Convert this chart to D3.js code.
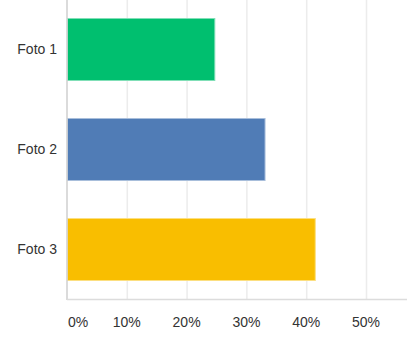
<!DOCTYPE html>
<html>
<head>
<meta charset="utf-8">
<script src="https://cdn.jsdelivr.net/npm/d3@7"></script>
<style>
  body { margin: 0; background: #fff; }
  svg { display: block; }
  text { font-family: "Liberation Sans", Arial, sans-serif; fill: #333; }
</style>
</head>
<body>
<svg width="407" height="350"></svg>
<script>
// data
var categories = ['Foto 1', 'Foto 2', 'Foto 3']
var values = [0.248, 0.332, 0.416]
var colors = ['#00bf6f', '#507cb6', '#f9be00']
var borders = ['#80dfb7', '#a8bedb', '#fcdf80']
var ticks = [0, 0.1, 0.2, 0.3, 0.4, 0.5]

var margin = {top: 0, right: 0, bottom: 51, left: 67}
var width = 407 - margin.left - margin.right
var height = 350 - margin.top - margin.bottom

var svg = d3.select('svg')
var g = svg.append('g').attr('transform', 'translate(' + margin.left + ',' + margin.top + ')')

var x = d3.scaleLinear().domain([0, 0.5]).range([0, 299])
var y = d3.scaleBand().domain(categories).range([0, height]).paddingInner(0.37).paddingOuter(0.18)

// grid lines
g.append('g').selectAll('line')
  .data(ticks.slice(1))
  .enter().append('line')
    .attr('x1', function (d) { return x(d) + 0.5 })
    .attr('x2', function (d) { return x(d) + 0.5 })
    .attr('y1', 0)
    .attr('y2', height)
    .attr('stroke', '#ececec')
    .attr('stroke-width', 1.5)

// bars
g.append('g').selectAll('rect')
  .data(values)
  .enter().append('rect')
    .attr('x', 0.5)
    .attr('y', function (d, i) { return y(categories[i]) + 0.5 })
    .attr('width', function (d) { return x(d) - 1 })
    .attr('height', y.bandwidth() - 1)
    .attr('fill', function (d, i) { return colors[i] })
    .attr('stroke', function (d, i) { return borders[i] })
    .attr('stroke-width', 1)

// axis lines
g.append('line')
  .attr('x1', 0).attr('x2', 0)
  .attr('y1', 0).attr('y2', height + 1)
  .attr('stroke', '#cfcfcf').attr('stroke-width', 1.5)
g.append('line')
  .attr('x1', 0).attr('x2', width)
  .attr('y1', height + 0.5).attr('y2', height + 0.5)
  .attr('stroke', '#dcdcdc').attr('stroke-width', 1.5)

// category labels
g.append('g').selectAll('text')
  .data(categories)
  .enter().append('text')
    .attr('x', -10)
    .attr('y', function (d) { return y(d) + y.bandwidth() / 2 })
    .attr('dy', '0.35em')
    .attr('text-anchor', 'end')
    .style('font-size', '14px')
    .text(function (d) { return d })

// tick labels
g.append('g').selectAll('text')
  .data(ticks)
  .enter().append('text')
    .attr('x', function (d) { return d === 0 ? 1 : x(d) })
    .attr('y', height + 23)
    .attr('dy', '0.35em')
    .attr('text-anchor', function (d) { return d === 0 ? 'start' : 'middle' })
    .style('font-size', '14px')
    .text(function (d) { return d3.format('.0%')(d) })
</script>
</body>
</html>
